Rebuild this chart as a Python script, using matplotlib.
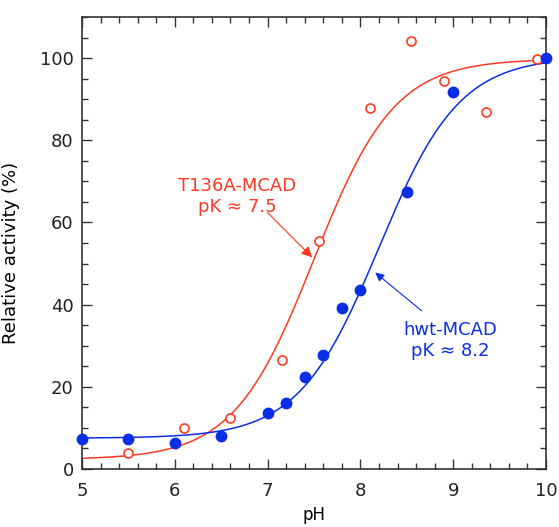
import numpy as np
import matplotlib
matplotlib.use("Agg")
import matplotlib.pyplot as plt
from matplotlib.ticker import MultipleLocator

# T136A-MCAD (open circles)
ph_t136a = [5.5, 6.1, 6.6, 7.15, 7.55, 8.1, 8.55, 8.9, 9.35, 9.9]
act_t136a = [4.0, 10.0, 12.4, 26.5, 55.6, 87.8, 104.2, 94.4, 86.8, 99.9]

# hwt-MCAD (filled circles)
ph_hwt = [5.0, 5.5, 6.0, 6.5, 7.0, 7.2, 7.4, 7.6, 7.8, 8.0, 8.5, 9.0, 10.0]
act_hwt = [7.4, 7.4, 6.4, 8.0, 13.7, 16.1, 22.5, 27.8, 39.3, 43.6, 67.3, 91.8, 100.0]

# single-pK titration fits: (pK, low plateau, high plateau)
fit_t136a = (7.5, 2.3, 99.8)
fit_hwt = (8.2, 7.5, 100.3)

red = "#ff3a22"
blue = "#0a2ee6"


def titration(ph, pk, lo, hi):
    return lo + (hi - lo) / (1 + 10 ** (pk - ph))


plt.rcParams["font.family"] = ["DejaVu Sans"]

fig = plt.figure(figsize=(5.59, 5.27), dpi=100)
ax = fig.add_axes([82 / 559, 1 - 469 / 527, 464 / 559, 452 / 527])

ph = np.linspace(5, 10, 300)
ax.plot(ph, titration(ph, *fit_t136a), color=red, lw=1.1)
ax.plot(ph, titration(ph, *fit_hwt), color=blue, lw=1.1)

ax.plot(ph_t136a, act_t136a, "o", mfc="white", mec=red, mew=1.2, ms=6.5,
        clip_on=False, zorder=3)
ax.plot(ph_hwt, act_hwt, "o", color=blue, ms=7.5, clip_on=False, zorder=4)

# labels and pointer arrows
ax.text(6.67, 66.3, "T136A-MCAD\npK \u2248 7.5", color=red, fontsize=13,
        ha="center", va="center", linespacing=1.2)
ax.annotate("", xy=(7.48, 51.5), xytext=(7.0, 62.4),
            arrowprops=dict(arrowstyle="-|>", color=red, lw=0.8,
                            mutation_scale=16, shrinkA=0, shrinkB=0))
ax.text(8.97, 31.2, "hwt-MCAD\npK \u2248 8.2", color=blue, fontsize=13,
        ha="center", va="center", linespacing=1.2)
ax.annotate("", xy=(8.16, 47.8), xytext=(8.66, 38.5),
            arrowprops=dict(arrowstyle="-|>", color=blue, lw=0.8,
                            mutation_scale=13, shrinkA=0, shrinkB=0))

ax.set_xlim(5, 10)
ax.set_ylim(0, 110)
ax.set_xticks([5, 6, 7, 8, 9, 10])
ax.set_yticks([0, 20, 40, 60, 80, 100])
ax.xaxis.set_minor_locator(MultipleLocator(0.2))
ax.yaxis.set_minor_locator(MultipleLocator(5))
ax.tick_params(which="both", direction="in", top=True, right=True,
               colors="#333333", labelcolor="#222222")
ax.tick_params(which="major", length=7, width=1, labelsize=13)
ax.tick_params(which="minor", length=4, width=1)
ax.tick_params(axis="x", which="major", pad=9)
ax.tick_params(axis="y", which="major", pad=6)
for s in ax.spines.values():
    s.set_color("#333333")
    s.set_linewidth(1.2)

ax.set_xlabel("pH", fontsize=12, labelpad=5)
ax.set_ylabel("Relative activity (%)", fontsize=13)
ax.yaxis.set_label_coords(-0.134, 0.477)

fig.savefig("out.png", dpi=100)
